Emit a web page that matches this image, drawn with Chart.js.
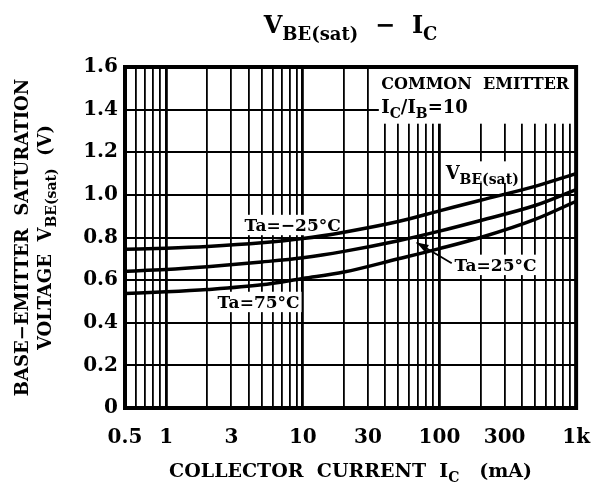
<!DOCTYPE html>
<html>
<head>
<meta charset="utf-8">
<script src="https://cdn.jsdelivr.net/npm/chart.js@4.4.1/dist/chart.umd.min.js"></script>
<style>
  html, body { margin: 0; padding: 0; background: #fff; }
  #wrap { width: 608px; height: 491px; position: relative; }
</style>
</head>
<body>
<div id="wrap"><canvas id="c" width="608" height="491"></canvas></div>
<script>
// ---- data ----
const currentMA = [0.5, 1, 2, 5, 10, 20, 50, 100, 200, 500, 1000];
const vbeMinus25 = [0.745, 0.75, 0.758, 0.775, 0.795, 0.825, 0.875, 0.925, 0.975, 1.04, 1.10];
const vbe25      = [0.642, 0.65, 0.663, 0.685, 0.705, 0.735, 0.785, 0.83, 0.88, 0.95, 1.025];
const vbe75      = [0.537, 0.545, 0.556, 0.578, 0.608, 0.638, 0.70, 0.748, 0.80, 0.885, 0.97];
const xGridValues = [0.5,0.6,0.7,0.8,0.9,1,2,3,4,5,6,7,8,9,10,20,30,40,50,60,70,80,90,100,200,300,400,500,600,700,800,900,1000];
const xTickLabels = {0.5:'0.5', 1:'1', 3:'3', 10:'10', 30:'30', 100:'100', 300:'300', 1000:'1k'};
const yTickValues = [0, 0.2, 0.4, 0.6, 0.8, 1.0, 1.2, 1.4, 1.6];

const FONT = '"DejaVu Serif", serif';

function pts(ys) { return currentMA.map((x, i) => ({x: x, y: ys[i]})); }

function richWidth(ctx, parts, size) {
  let w = 0;
  for (const p of parts) {
    ctx.font = 'bold ' + (p[1] ? Math.round(size * 0.75) : size) + 'px ' + FONT;
    w += ctx.measureText(p[0]).width;
  }
  return w;
}
function drawRich(ctx, parts, x, y, size, align) {
  const w = richWidth(ctx, parts, size);
  let cx = align === 'center' ? x - w / 2 : (align === 'right' ? x - w : x);
  ctx.textBaseline = 'alphabetic';
  ctx.textAlign = 'left';
  ctx.fillStyle = '#000';
  for (const p of parts) {
    const s = p[1] ? Math.round(size * 0.75) : size;
    ctx.font = 'bold ' + s + 'px ' + FONT;
    ctx.fillText(p[0], cx, y + (p[1] ? size * 0.28 : 0));
    cx += ctx.measureText(p[0]).width;
  }
  return w;
}

// annotation definitions in data coordinates
const labels = [
  {parts: [['Ta=−25°C']], x: 3.75, y: 0.857, size: 17},
  {parts: [['V'], ['BE(sat)', 1]], x: 111, y: 1.105, size: 18},
  {parts: [['Ta=25°C']], x: 129, y: 0.67, size: 17},
  {parts: [['Ta=75°C']], x: 2.38, y: 0.496, size: 17}
];

const annot = {
  id: 'annot',
  beforeDatasetsDraw(chart) {
    const ctx = chart.ctx, xs = chart.scales.x, ys = chart.scales.y;
    ctx.save();
    ctx.fillStyle = '#fff';
    const bx = xs.getPixelForValue(36), by = ys.getPixelForValue(1.334);
    ctx.fillRect(bx, chart.chartArea.top, chart.chartArea.right - bx, by - chart.chartArea.top);
    for (const l of labels) {
      const px = xs.getPixelForValue(l.x), py = ys.getPixelForValue(l.y);
      const w = richWidth(ctx, l.parts, l.size);
      ctx.fillStyle = '#fff';
      ctx.fillRect(px - 2, py - l.size * 0.62, w + 4, l.size * 1.2);
    }
    ctx.restore();
  },
  afterDatasetsDraw(chart) {
    const ctx = chart.ctx, xs = chart.scales.x, ys = chart.scales.y, a = chart.chartArea;
    ctx.save();
    for (const l of labels) {
      const px = xs.getPixelForValue(l.x), py = ys.getPixelForValue(l.y);
      drawRich(ctx, l.parts, px, py + l.size * 0.36, l.size, 'left');
    }
    const tx = xs.getPixelForValue(37.5);
    drawRich(ctx, [['COMMON  EMITTER']], tx, ys.getPixelForValue(1.526) + 6, 16, 'left');
    drawRich(ctx, [['I'], ['C', 1], ['/I'], ['B', 1], ['=10']], tx, ys.getPixelForValue(1.414) + 6, 18, 'left');
    // arrow for Ta=25°C
    const x1 = xs.getPixelForValue(123), y1 = ys.getPixelForValue(0.679);
    const x2 = xs.getPixelForValue(68), y2 = ys.getPixelForValue(0.777);
    ctx.strokeStyle = '#000'; ctx.lineWidth = 1.8;
    ctx.beginPath(); ctx.moveTo(x1, y1); ctx.lineTo(x2, y2); ctx.stroke();
    const ang = Math.atan2(y2 - y1, x2 - x1);
    ctx.beginPath();
    ctx.moveTo(x2, y2);
    ctx.lineTo(x2 - 12 * Math.cos(ang) + 4 * Math.sin(ang), y2 - 12 * Math.sin(ang) - 4 * Math.cos(ang));
    ctx.lineTo(x2 - 12 * Math.cos(ang) - 4 * Math.sin(ang), y2 - 12 * Math.sin(ang) + 4 * Math.cos(ang));
    ctx.closePath(); ctx.fillStyle = '#000'; ctx.fill();
    ctx.lineWidth = 4;
    ctx.strokeRect(a.left, a.top, a.right - a.left, a.bottom - a.top);
    ctx.restore();
  },
  afterDraw(chart) {
    const ctx = chart.ctx, a = chart.chartArea;
    const cx = (a.left + a.right) / 2;
    ctx.save();
    drawRich(ctx, [['V'], ['BE(sat)', 1], ['  −  I'], ['C', 1]], cx, 33, 24, 'center');
    drawRich(ctx, [['COLLECTOR  CURRENT  I'], ['C', 1], ['   (mA)']], cx, 477, 19, 'center');
    const cy = (a.top + a.bottom) / 2;
    ctx.save();
    ctx.translate(28, cy); ctx.rotate(-Math.PI / 2);
    drawRich(ctx, [['BASE−EMITTER  SATURATION']], 0, 0, 18, 'center');
    ctx.restore();
    ctx.save();
    ctx.translate(51, cy); ctx.rotate(-Math.PI / 2);
    drawRich(ctx, [['VOLTAGE  V'], ['BE(sat)', 1], ['  (V)']], 0, 0, 18, 'center');
    ctx.restore();
    ctx.restore();
  }
};

const ds = (d) => ({
  data: pts(d), borderColor: '#000', borderWidth: 3.5, pointRadius: 0,
  cubicInterpolationMode: 'monotone', fill: false
});

new Chart(document.getElementById('c'), {
  type: 'line',
  data: { datasets: [ds(vbeMinus25), ds(vbe25), ds(vbe75)] },
  plugins: [annot],
  options: {
    responsive: false, animation: false, devicePixelRatio: 1,
    layout: { padding: { top: 67, right: 30, left: 0, bottom: 0 } },
    plugins: { legend: { display: false }, tooltip: { enabled: false }, title: { display: false } },
    scales: {
      x: {
        type: 'logarithmic', min: 0.5, max: 1000,
        afterBuildTicks(s) { s.ticks = xGridValues.map(v => ({ value: v })); },
        afterFit(s) { s.height = 83; },
        border: { display: false },
        grid: {
          drawTicks: false, color: '#000',
          lineWidth: (c) => { const v = c.tick ? c.tick.value : 0; return [1, 10, 100].includes(v) ? 2.8 : 1.8; }
        },
        ticks: {
          autoSkip: false, maxRotation: 0, minRotation: 0, padding: 18, color: '#000',
          font: { family: FONT, size: 20, weight: 'bold' },
          callback: (v) => xTickLabels[v] !== undefined ? xTickLabels[v] : ''
        }
      },
      y: {
        min: 0, max: 1.6,
        afterBuildTicks(s) { s.ticks = yTickValues.map(v => ({ value: v })); },
        afterFit(s) { s.width = 125; },
        border: { display: false },
        grid: { drawTicks: false, color: '#000', lineWidth: 2 },
        ticks: {
          padding: 7, color: '#000',
          font: { family: FONT, size: 20, weight: 'bold' },
          callback: (v) => v === 0 ? '0' : Number(v).toFixed(1)
        }
      }
    }
  }
});
</script>
</body>
</html>
